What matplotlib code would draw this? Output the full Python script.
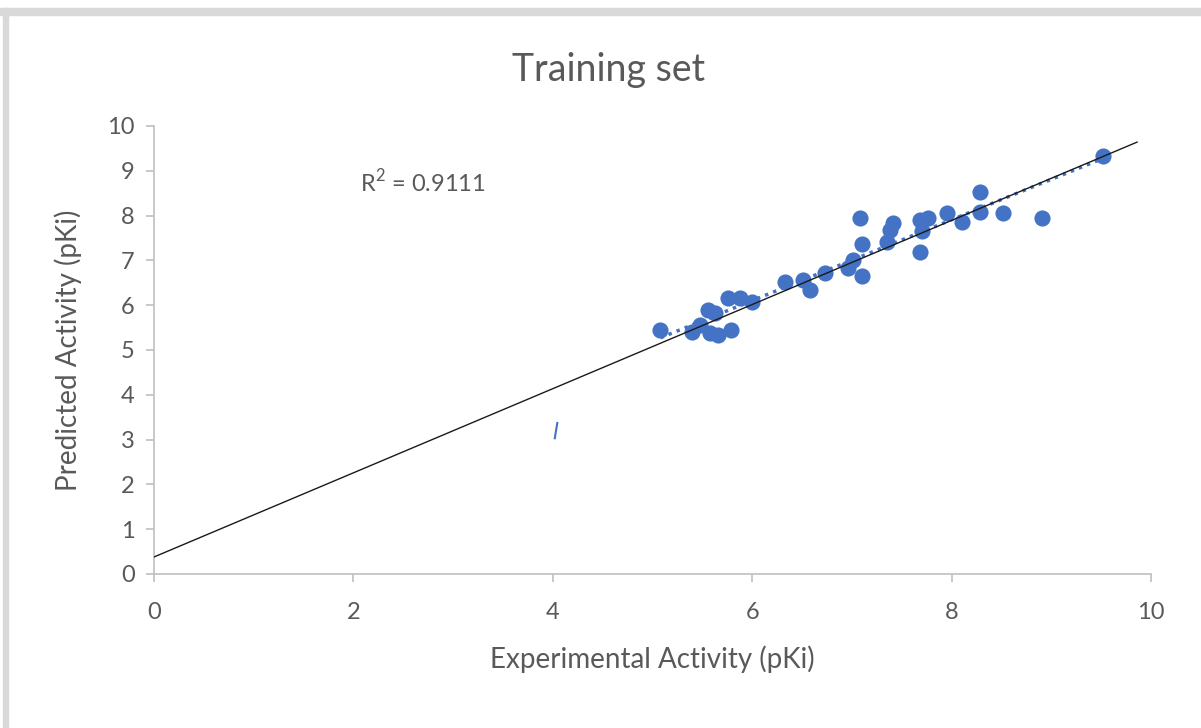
import matplotlib.pyplot as plt
from matplotlib.patches import Rectangle
import numpy as np

# data
exp_pki = [5.08, 5.40, 5.48, 5.56, 5.63, 5.58, 5.66, 5.79, 5.76, 5.88, 6.00,
           6.33, 6.51, 6.58, 6.73, 6.96, 7.01, 7.10, 7.08, 7.10, 7.35, 7.38,
           7.41, 7.68, 7.70, 7.68, 7.76, 7.95, 8.10, 8.28, 8.28, 8.52, 8.91, 9.52]
pred_pki = [5.45, 5.40, 5.56, 5.89, 5.83, 5.38, 5.33, 5.45, 6.16, 6.16, 6.07,
            6.52, 6.56, 6.34, 6.72, 6.83, 7.01, 6.65, 7.95, 7.37, 7.41, 7.68,
            7.83, 7.19, 7.66, 7.90, 7.95, 8.06, 7.86, 8.53, 8.08, 8.06, 7.95, 9.33]
r2_text = "R$^2$ = 0.9111"

# hand-drawn black reference line (start / end)
ref_x = [0.0, 9.86]
ref_y = [0.38, 9.64]
# stray blue stroke
stray_x = [4.02, 4.045]
stray_y = [3.03, 3.37]

grey = '#595959'
blue = '#4472C4'

plt.rcParams['font.family'] = ['Lato', 'DejaVu Sans']
plt.rcParams['mathtext.fontset'] = 'custom'
plt.rcParams['mathtext.rm'] = 'Lato'

fig = plt.figure(figsize=(12.01, 7.28), dpi=100, facecolor='white')
# grey frame of the screenshot
fig.patches.append(Rectangle((0, 1 - 15/728), 1, 7/728, transform=fig.transFigure,
                             color='#d9d9d9', zorder=0))
fig.patches.append(Rectangle((3/1201, 0), 5/1201, 1 - 8/728, transform=fig.transFigure,
                             color='#d9d9d9', zorder=0))

ax = fig.add_axes([154/1201, 1 - 574/728, 997/1201, 448/728])

ax.scatter(exp_pki, pred_pki, s=135, color=blue, zorder=3, linewidths=0)

# linear trendline (dotted)
coef = np.polyfit(exp_pki, pred_pki, 1)
tx = np.array([min(exp_pki), max(exp_pki)])
ax.plot(tx, np.polyval(coef, tx), color=blue, linestyle=(0, (1, 1.5)), linewidth=2.5, zorder=2)

ax.plot(ref_x, ref_y, color='#1a1a1a', linewidth=1, zorder=4)
ax.plot(stray_x, stray_y, color=blue, linewidth=1.5)

ax.text(2.07, 8.75, r2_text, fontsize=17, color=grey, va='center', ha='left')

ax.set_xlim(0, 10)
ax.set_ylim(0, 10)
ax.set_xticks(range(0, 11, 2))
ax.set_yticks(range(0, 11, 1))

for s in ['top', 'right']:
    ax.spines[s].set_visible(False)
for s in ['left', 'bottom']:
    ax.spines[s].set_color('#bfbfbf')
    ax.spines[s].set_linewidth(1.2)

ax.tick_params(axis='both', colors='#bfbfbf', labelcolor=grey, labelsize=17, length=6, width=1.2)
ax.tick_params(axis='x', pad=14)
ax.tick_params(axis='y', pad=8)

ax.set_xlabel('Experimental Activity (pKi)', fontsize=20, color=grey, labelpad=16)
ax.set_ylabel('Predicted Activity (pKi)', fontsize=20, color=grey, labelpad=18)
fig.text(0.507, 1 - 70/728, 'Training set', fontsize=27, color=grey, ha='center', va='center')

fig.savefig('out.png', dpi=100, facecolor='white')
